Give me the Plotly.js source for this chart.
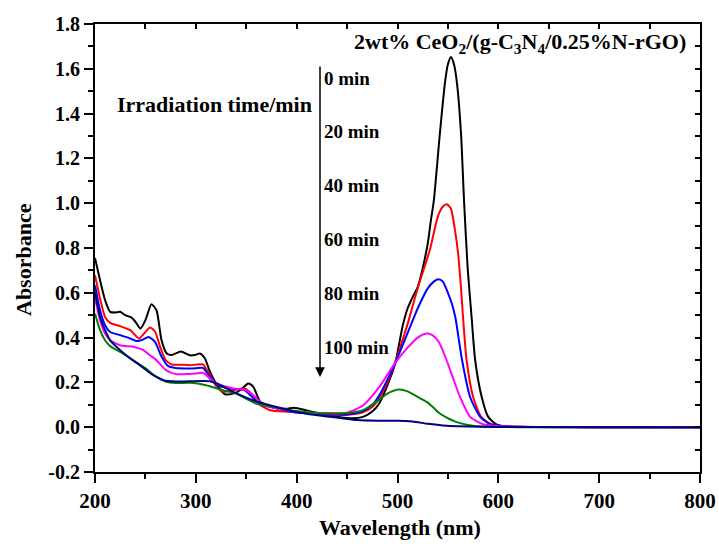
<!DOCTYPE html>
<html>
<head>
<meta charset="utf-8">
<script src="https://cdn.plot.ly/plotly-3.0.1.min.js"></script>
<style>html,body{margin:0;padding:0;background:#fff;}#chart{width:719px;height:546px;}</style>
</head>
<body>
<div id="chart"></div>
<script>
// ---- data ----
const seriesNames = ['0 min', '20 min', '40 min', '60 min', '80 min', '100 min'];
const seriesColors = ['#000000', '#ff0000', '#0000ff', '#ff00ff', '#008000', '#000080'];

const wave0 = [200,205,210,215,220,225,230,236,241,245,250,256,261,266,271,276,285,294,299,304,309,314,321,329,337,344,352,357,364,377,390,397,410,425,440,455,465,475,482,492,498,505,510,515,520,525,530,533,536,542,547,550,553,556,559,563,566,569.5,573.5,577,583.5,590,598,610,650,700,800];
const abs0  = [0.755,0.656,0.567,0.515,0.512,0.515,0.500,0.490,0.465,0.440,0.478,0.549,0.522,0.388,0.330,0.322,0.338,0.321,0.322,0.329,0.307,0.248,0.189,0.147,0.150,0.165,0.195,0.180,0.113,0.088,0.082,0.087,0.075,0.058,0.047,0.040,0.045,0.070,0.107,0.210,0.290,0.450,0.530,0.580,0.625,0.710,0.820,0.920,1.010,1.310,1.535,1.620,1.653,1.620,1.535,1.310,1.010,0.716,0.490,0.300,0.135,0.046,0.013,0.003,0.001,0.000,0.000];

const wave20 = [200,205,210,215,225,235,243.6,249,254.5,259.5,264.5,270,276,285,294,300,307,312,320.7,327,337,348.5,355,362,373.5,393,410,430,450,465,475,482,492,500,510,520,532,540,545,549,553,557,560,563,565,568.5,575,583,593,610,700,800];
const abs20  = [0.679,0.575,0.492,0.466,0.451,0.433,0.396,0.420,0.445,0.427,0.360,0.300,0.280,0.279,0.277,0.279,0.280,0.248,0.180,0.158,0.165,0.173,0.150,0.106,0.076,0.069,0.062,0.056,0.055,0.065,0.090,0.130,0.220,0.320,0.460,0.620,0.790,0.940,0.985,0.995,0.975,0.880,0.780,0.620,0.490,0.300,0.135,0.046,0.013,0.003,0.000,0.000];

const wave40 = [200,205,210,215,225,235,241,247,253,259.5,266,272,280,294,300,307,312,320.7,334,348.5,353,363,375,393,410,430,450,465,475,482,492,500,510,520,530,536,540.6,545,550,554,557.4,564,572,582,592,610,700,800];
const abs40  = [0.634,0.522,0.455,0.425,0.411,0.396,0.385,0.390,0.403,0.381,0.315,0.275,0.264,0.262,0.263,0.265,0.237,0.189,0.173,0.165,0.147,0.106,0.090,0.070,0.062,0.058,0.058,0.070,0.100,0.143,0.230,0.310,0.420,0.530,0.620,0.650,0.660,0.650,0.600,0.550,0.490,0.300,0.135,0.046,0.013,0.003,0.000,0.000];

const wave60 = [200,205,210,215,225,238,248,254.5,261,270,280,290,300,307,314,320.7,337,350,357,367,380,395,410,430,450,466,482,497.5,510,520,526,530,535,541,548.6,555,562,572,585,600,650,700,800];
const abs60  = [0.579,0.478,0.418,0.388,0.366,0.359,0.344,0.321,0.299,0.256,0.237,0.237,0.240,0.243,0.217,0.195,0.173,0.165,0.143,0.099,0.085,0.072,0.065,0.062,0.065,0.098,0.180,0.286,0.355,0.400,0.415,0.418,0.410,0.380,0.300,0.220,0.135,0.046,0.013,0.004,0.001,0.000,0.000];

const wave80 = [200,205,210,215,225,233,240,250,260,270,280,295,310,327,340,360,380,395,410,430,450,465.8,481,490,501,510,520,529,535,542,550,558,570,585,620,800];
const abs80  = [0.507,0.433,0.388,0.362,0.336,0.314,0.293,0.264,0.227,0.204,0.197,0.198,0.187,0.165,0.150,0.105,0.088,0.075,0.068,0.062,0.063,0.076,0.120,0.150,0.168,0.160,0.135,0.113,0.090,0.061,0.040,0.024,0.010,0.003,0.000,0.000];

const wave100 = [200,205,210,215,225,235,245,255,263,270,280,294,314,320.7,337,360,380,393,410,430,445,460,480,500,515,530,545,560,600,800];
const abs100  = [0.604,0.492,0.433,0.388,0.344,0.307,0.275,0.240,0.220,0.207,0.204,0.205,0.205,0.195,0.158,0.115,0.090,0.075,0.060,0.048,0.040,0.032,0.029,0.029,0.025,0.015,0.008,0.004,0.001,0.000];

const xTickVals = [200,300,400,500,600,700,800];
const xTickText = ['200','300','400','500','600','700','800'];
const yTickVals = [-0.2,0,0.2,0.4,0.6,0.8,1.0,1.2,1.4,1.6,1.8];
const yTickText = ['-0.2','0.0','0.2','0.4','0.6','0.8','1.0','1.2','1.4','1.6','1.8'];

const waves = [wave0, wave20, wave40, wave60, wave80, wave100];
const absorb = [abs0, abs20, abs40, abs60, abs80, abs100];

// ---- figure ----
const FONT = 'Liberation Serif, Times New Roman, serif';
const W = 719, H = 546, ML = 95, MR = 19, MT = 24, MB = 74;
const PW = W - ML - MR, PH = H - MT - MB;
const px = p => (p - ML) / PW;           // pixel -> paper x
const py = p => (H - MB - p) / PH;       // pixel -> paper y

const traces = waves.map((w, i) => ({
  x: w, y: absorb[i], type: 'scatter', mode: 'lines', name: seriesNames[i],
  line: {color: seriesColors[i], width: 2, shape: 'spline', smoothing: 0.6},
  hoverinfo: 'skip'
}));
traces.push({x: [], y: [], xaxis: 'x2', yaxis: 'y2', type: 'scatter', mode: 'lines', showlegend: false, hoverinfo: 'skip'});

const axisCommon = {showgrid: false, zeroline: false, showline: true, linecolor: '#000', linewidth: 2,
  tickcolor: '#000', tickwidth: 2};

const layout = {
  width: W, height: H,
  margin: {l: ML, r: MR, t: MT, b: MB, pad: 0},
  paper_bgcolor: '#fff', plot_bgcolor: '#fff',
  showlegend: false,
  font: {family: FONT, color: '#000'},
  xaxis: Object.assign({}, axisCommon, {
    range: [200, 800], tickmode: 'array', tickvals: xTickVals, ticktext: xTickText,
    ticks: 'outside', ticklen: 9,
    tickfont: {family: FONT, size: 21, weight: 'bold', color: '#000'},
    minor: {tickmode: 'linear', tick0: 200, dtick: 50, ticks: 'outside', ticklen: 5, tickwidth: 2, tickcolor: '#000', showgrid: false}
  }),
  yaxis: Object.assign({}, axisCommon, {
    range: [-0.2, 1.8], tickmode: 'array', tickvals: yTickVals, ticktext: yTickText,
    ticks: 'outside', ticklen: 9,
    tickfont: {family: FONT, size: 20, weight: 'bold', color: '#000'},
    minor: {tickmode: 'linear', tick0: -0.2, dtick: 0.1, ticks: 'outside', ticklen: 5, tickwidth: 2, tickcolor: '#000', showgrid: false}
  }),
  xaxis2: Object.assign({}, axisCommon, {
    overlaying: 'x', side: 'top', anchor: 'y2', range: [200, 800], tickmode: 'linear', tick0: 200, dtick: 50,
    ticks: 'inside', ticklen: 5, showticklabels: false
  }),
  yaxis2: Object.assign({}, axisCommon, {
    overlaying: 'y', side: 'right', anchor: 'x2', range: [-0.2, 1.8], tickmode: 'linear', tick0: -0.2, dtick: 0.1,
    ticks: 'inside', ticklen: 5, showticklabels: false
  }),
  annotations: [
    {xref: 'paper', yref: 'paper', x: px(400), y: py(527), xanchor: 'center', yanchor: 'middle', showarrow: false,
     text: '<b>Wavelength (nm)</b>', font: {family: FONT, size: 22, color: '#000'}},
    {xref: 'paper', yref: 'paper', x: px(23), y: py(260), xanchor: 'center', yanchor: 'middle', showarrow: false,
     textangle: -90, text: '<b>Absorbance</b>', font: {family: FONT, size: 22, color: '#000'}},
    {xref: 'paper', yref: 'paper', x: px(688), y: py(27), xanchor: 'right', yanchor: 'top', showarrow: false,
     text: '<b>2wt% CeO<sub>2</sub>/(g-C<sub>3</sub>N<sub>4</sub>/0.25%N-rGO)</b>', font: {family: FONT, size: 22, color: '#000'}},
    {xref: 'paper', yref: 'paper', x: px(214), y: py(105), xanchor: 'center', yanchor: 'middle', showarrow: false,
     text: '<b>Irradiation time/min</b>', font: {family: FONT, size: 22, color: '#000'}},
    {xref: 'paper', yref: 'paper', x: px(320), y: py(377), ax: 0, ay: -(377 - 65), showarrow: true, text: '',
     arrowhead: 2, arrowsize: 1.3, arrowwidth: 1.5, arrowcolor: '#000'}
  ].concat(seriesNames.map((name, i) => ({
    xref: 'paper', yref: 'paper', x: px(322), y: py(78 + i * 53.8), xanchor: 'left', yanchor: 'middle', showarrow: false,
    text: '<b>' + name + '</b>', font: {family: FONT, size: 19, color: '#000'}
  })))
};

Plotly.newPlot('chart', traces, layout, {staticPlot: true, displayModeBar: false});
</script>
</body>
</html>
